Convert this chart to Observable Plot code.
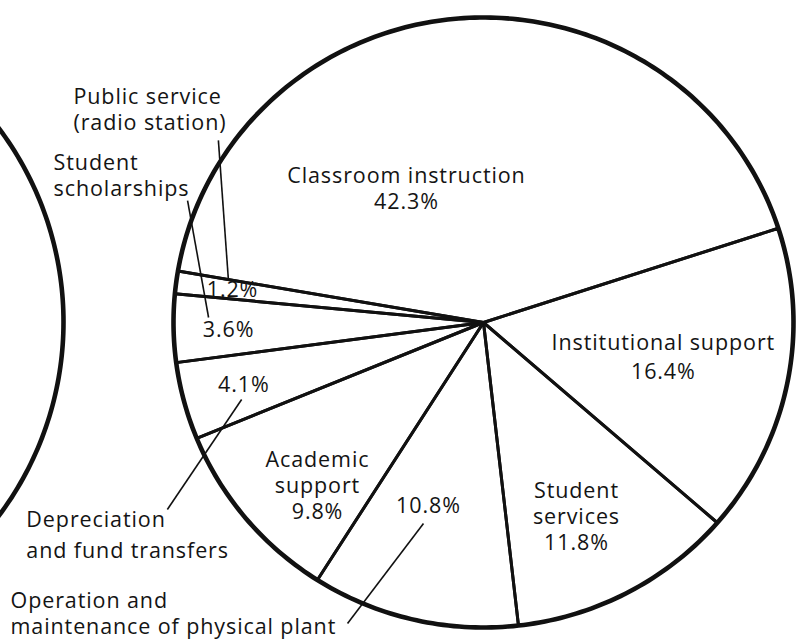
<!DOCTYPE html>
<html><head><meta charset="utf-8">
<script src="https://cdn.jsdelivr.net/npm/d3@7"></script>
<script src="https://cdn.jsdelivr.net/npm/@observablehq/plot@0.6"></script>
<style>
html,body{margin:0;padding:0;background:#fff;overflow:hidden;}
#chart{width:797px;height:639px;overflow:hidden;}
#chart svg{display:block;}
#chart svg text{letter-spacing:0.9px;}
</style></head><body><div id="chart"></div>
<script>
// ---- data (clockwise order, starting with the largest slice) ----
const categories = ["Classroom instruction","Institutional support","Student services","Operation and maintenance of physical plant","Academic support","Depreciation and fund transfers","Student scholarships","Public service (radio station)"];
const shares = [42.3, 16.4, 11.8, 10.8, 9.8, 4.1, 3.6, 1.2];
const percentLabels = ["42.3%","16.4%","11.8%","10.8%","9.8%","4.1%","3.6%","1.2%"];
const nameLines = [
  ["Classroom instruction"],
  ["Institutional support"],
  ["Student","services"],
  ["Operation and","maintenance of physical plant"],
  ["Academic","support"],
  ["Depreciation","and fund transfers"],
  ["Student","scholarships"],
  ["Public service","(radio station)"]
];

// ---- layout (not data) ----
const W = 797, H = 639;
const CX = 483, CY = 322, RX = 310, RY = 305;   // pie frame in pixels
const boundaryDeg = -18;                         // screen angle of the Classroom / Institutional spoke
const FS = 21.5;
// label placement: polar offset (degrees from slice mid-angle, radius in pie units)
const insideBlocks = [ // name + percent together inside the slice
  {i:0, da:-25.2, r:0.507, lh:1.22},
  {i:1, da:-1.03, r:0.590, lh:1.35},
  {i:2, da: 2.39, r:0.701, lh:1.22},
  {i:4, da:-4.86, r:0.755, lh:1.22}
];
const percentOnly = [
  {i:3, da: 3.49, r:0.627},
  {i:5, da: 0.00, r:0.800},
  {i:6, da:-0.75, r:0.823},
  {i:7, da:-0.18, r:0.8165}
];
const outsideNames = [ // left-aligned names outside the pie
  {i:3, da:45.10, r:1.798, lh:1.22},
  {i:5, da:-10.13, r:1.628, lh:1.40},
  {i:6, da:20.33, r:1.469, lh:1.22},
  {i:7, da:20.36, r:1.497, lh:1.22}
];
const leaders = [
  {i:3, da1: 3.41, r1:0.687, da2:11.00, r2:1.080},
  {i:5, da1:-2.98, r1:0.820, da2:-16.08, r2:1.190},
  {i:6, da1: 2.14, r1:0.887, da2:23.81, r2:1.035},
  {i:7, da1: 2.17, r1:0.835, da2:27.36, r2:1.043}
];

// ---- pie geometry via d3.pie ----
const rad = Math.PI / 180;
const total = d3.sum(shares);
const startPie = (boundaryDeg - 360 * shares[0] / total + 90) * rad;
const arcs = d3.pie().sort(null).value(d => d).startAngle(startPie).endAngle(startPie + 2 * Math.PI)(shares);
const scr = a => a - Math.PI / 2; // pie angle -> screen angle (clockwise from +x, y down)
const midDeg = arcs.map(a => scr((a.startAngle + a.endAngle) / 2) / rad);
const polar = (i, da, r) => {
  const t = (midDeg[i] + da) * rad;
  return [r * Math.cos(t), r * Math.sin(t)];
};

const outline = [], rim = [];
arcs.forEach((a, i) => {
  const s = scr(a.startAngle), e = scr(a.endAngle);
  const n = Math.max(4, Math.ceil((e - s) / rad));
  outline.push({k: i, x: 0, y: 0});
  for (let j = 0; j <= n; j++) {
    const t = s + (e - s) * j / n;
    const p = {k: i, x: Math.cos(t), y: Math.sin(t)};
    outline.push(p); rim.push(p);
  }
  outline.push({k: i, x: 0, y: 0});
});

// neighbouring pie (cut off at the left edge of the page)
const nCX = (-259.5 - CX) / RX, nCY = (321.5 - CY) / RY, nRX = 322.5 / RX, nRY = 322.5 / RY;
const neighbour = d3.range(-80, 81, 1).map(d => ({x: nCX + nRX * Math.cos(d * rad), y: nCY + nRY * Math.sin(d * rad)}));

const textStyle = {fontSize: FS, fontFamily: "'Open Sans', 'DejaVu Sans', sans-serif", fill: "#141414", stroke: "none"};

const textMarks = [
  ...insideBlocks.map(b => {
    const [x, y] = polar(b.i, b.da, b.r);
    return Plot.text([[...nameLines[b.i], percentLabels[b.i]].join("\n")], {x: () => x, y: () => y, text: d => d, textAnchor: "middle", lineAnchor: "middle", lineHeight: b.lh, ...textStyle});
  }),
  Plot.text(percentOnly, {x: d => polar(d.i, d.da, d.r)[0], y: d => polar(d.i, d.da, d.r)[1], text: d => percentLabels[d.i], textAnchor: "middle", lineAnchor: "middle", ...textStyle}),
  ...outsideNames.map(b => {
    const [x, y] = polar(b.i, b.da, b.r);
    return Plot.text([nameLines[b.i].join("\n")], {x: () => x, y: () => y, text: d => d, textAnchor: "start", lineAnchor: "middle", lineHeight: b.lh, ...textStyle});
  })
];

const chart = Plot.plot({
  width: W, height: H, margin: 0,
  x: {type: "linear", domain: [-CX / RX, (W - CX) / RX], range: [0, W], axis: null},
  y: {type: "linear", domain: [-CY / RY, (H - CY) / RY], range: [0, H], axis: null},
  style: {background: "white"},
  marks: [
    Plot.line(neighbour, {x: "x", y: "y", stroke: "#111", strokeWidth: 4.6}),
    Plot.line(outline, {x: "x", y: "y", z: "k", stroke: "#111", strokeWidth: 3, strokeLinejoin: "round"}),
    Plot.line(rim, {x: "x", y: "y", stroke: "#111", strokeWidth: 4.6}),
    Plot.link(leaders, {
      x1: d => polar(d.i, d.da1, d.r1)[0], y1: d => polar(d.i, d.da1, d.r1)[1],
      x2: d => polar(d.i, d.da2, d.r2)[0], y2: d => polar(d.i, d.da2, d.r2)[1],
      stroke: "#111", strokeWidth: 1.6
    }),
    ...textMarks
  ]
});
document.getElementById("chart").appendChild(chart);
</script>
</body></html>
